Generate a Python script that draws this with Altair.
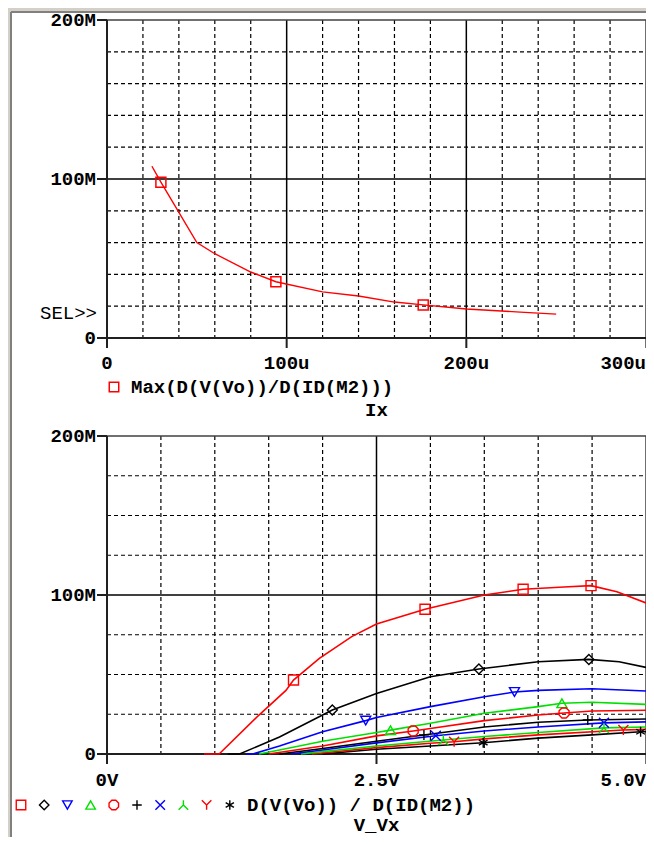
import altair as alt
import pandas as pd

FONT = "Liberation Mono"
FS = 19

# ---------------- top panel data (Ix in u, gain in M) ----------------
TOP_IX = [25, 30, 50, 60, 80, 94, 120, 140, 160, 176, 200, 230, 250]
TOP_GAIN = [108, 98, 60, 53, 41.5, 35.4, 29, 26.4, 22.6, 20.8, 18.2, 16.3, 15]
TOP_MARK_IX = [30, 94, 176]
TOP_MARK_GAIN = [98, 35.4, 20.8]

TOP_XTICKS = [0, 100, 200]
TOP_XLABELS = ["0", "100u", "200u"]
TOP_XLAST = [300]
TOP_XLAST_LABEL = ["300u"]
TOP_YTICKS = [0, 100, 200]
TOP_YLABELS = ["0", "100M", "200M"]
TOP_XGRID = [20, 40, 60, 80, 120, 140, 160, 180, 220, 240, 260, 280]
TOP_YGRID = [20, 40, 60, 80, 120, 140, 160, 180]
TOP_LEGEND = "Max(D(V(Vo))/D(ID(M2)))"
TOP_XTITLE = "Ix"
SEL_TEXT = "SEL>>"

# ---------------- bottom panel data (V_Vx in V, gain in M) ----------------
BOT_XTICKS = [0, 2.5]
BOT_XLABELS = ["0V", "2.5V"]
BOT_XLAST = [5.0]
BOT_XLAST_LABEL = ["5.0V"]
BOT_YTICKS = [0, 100, 200]
BOT_YLABELS = ["0", "100M", "200M"]
BOT_XGRID = [0.5, 1.0, 1.5, 2.0, 3.0, 3.5, 4.0, 4.5]
BOT_YGRID = [25, 50, 75, 125, 150, 175]
BOT_LEGEND = "D(V(Vo)) / D(ID(M2))"
BOT_XTITLE = "V_Vx"

S1_V = [0.90, 1.04, 1.41, 1.66, 1.73, 1.97, 2.27, 2.5, 2.95, 3.5, 3.86, 4.24, 4.49, 4.73, 5.0]
S1_G = [0, 0, 24.5, 40, 46.5, 60.2, 73.8, 81.8, 91, 100, 103.6, 105, 105.9, 102, 95]
S1_MV = [1.73, 2.95, 3.86, 4.49]
S1_MG = [46.5, 91, 103.6, 105.9]

S2_V = [1.12, 1.23, 1.6, 2.0, 2.09, 2.5, 3.0, 3.45, 4.0, 4.47, 4.75, 5.0]
S2_G = [0, 0, 10.7, 24.5, 27.7, 38, 48.6, 53.5, 58, 59.5, 58, 54.5]
S2_MV = [2.09, 3.45, 4.47]
S2_MG = [27.7, 53.5, 59.5]

S3_V = [1.29, 1.35, 1.6, 2.0, 2.4, 2.5, 3.0, 3.5, 3.78, 4.0, 4.5, 5.0]
S3_G = [0, 0, 5, 14, 21, 23, 29.8, 36, 39, 40, 41, 39.6]
S3_MV = [2.4, 3.78]
S3_MG = [21, 39]

S4_V = [1.41, 1.6, 2.0, 2.5, 2.63, 3.0, 3.5, 4.0, 4.22, 4.5, 5.0]
S4_G = [0, 2.5, 8, 13.5, 15, 19.3, 25.6, 29.8, 31.9, 32.5, 31.2]
S4_MV = [2.63, 4.22]
S4_MG = [15, 31.9]

S5_V = [1.5, 2.0, 2.5, 2.84, 3.0, 3.5, 4.0, 4.24, 4.5, 5.0]
S5_G = [0, 5, 11.4, 14.5, 16, 21, 24.5, 25.8, 27, 27.5]
S5_MV = [2.84, 4.24]
S5_MG = [14.5, 25.8]

S6_V = [1.6, 2.0, 2.5, 2.94, 3.5, 4.0, 4.46, 5.0]
S6_G = [0, 3.5, 8, 12, 17, 20, 21.4, 22]
S6_MV = [2.94, 4.46]
S6_MG = [12, 21.4]

S7_V = [1.7, 2.0, 2.5, 3.05, 3.5, 4.0, 4.61, 5.0]
S7_G = [0, 2.5, 7, 11.5, 14.5, 17, 19.6, 20.2]
S7_MV = [3.05, 4.61]
S7_MG = [11.5, 19.6]

S8_V = [1.8, 2.0, 2.5, 3.12, 3.5, 4.0, 4.61, 5.0]
S8_G = [0, 1.5, 5, 8.8, 11, 13.5, 16.4, 17]
S8_MV = [3.12, 4.61]
S8_MG = [8.8, 16.4]

S9_V = [1.9, 2.5, 3.0, 3.22, 3.5, 4.0, 4.79, 5.0]
S9_G = [0, 4, 6.8, 7.7, 9.5, 12, 15.1, 15.5]
S9_MV = [3.22, 4.79]
S9_MG = [7.7, 15.1]

S10_V = [2.0, 2.5, 3.0, 3.49, 4.0, 4.5, 4.95, 5.0]
S10_G = [0, 3, 5, 7.1, 10, 12, 14, 14]
S10_MV = [3.49, 4.95]
S10_MG = [7.1, 14]

RED, BLACK, BLUE, GREEN = "#ff0000", "#000000", "#0000ff", "#00e000"
SHAPES = [
    "square",
    "diamond",
    "triangle-down",
    "triangle-up",
    "M-0.42,-1L0.42,-1L1,-0.42L1,0.42L0.42,1L-0.42,1L-1,0.42L-1,-0.42Z",
    "M-1,0L1,0M0,-1L0,1",
    "M-1,-1L1,1M-1,1L1,-1",
    "M0,-1L0,0L-1,1M0,0L1,1",
    "M-1,-1L0,0L1,-1M0,0L0,1",
    "M0,-1L0,1M-0.87,-0.5L0.87,0.5M-0.87,0.5L0.87,-0.5",
]
COLORS = [RED, BLACK, BLUE, GREEN, RED, BLACK, BLUE, GREEN, RED, BLACK]
SERIES = [
    (S1_V, S1_G, S1_MV, S1_MG), (S2_V, S2_G, S2_MV, S2_MG),
    (S3_V, S3_G, S3_MV, S3_MG), (S4_V, S4_G, S4_MV, S4_MG),
    (S5_V, S5_G, S5_MV, S5_MG), (S6_V, S6_G, S6_MV, S6_MG),
    (S7_V, S7_G, S7_MV, S7_MG), (S8_V, S8_G, S8_MV, S8_MG),
    (S9_V, S9_G, S9_MV, S9_MG), (S10_V, S10_G, S10_MV, S10_MG),
]

# ---------------- layout (pixels relative to top plot origin) ----------------
W_TOP = 539
W_BOT = 539
H_TOP = 318
BOT_Y0 = 416
BOT_Y1 = 734
PAD_L, PAD_T, PAD_R, PAD_B = 99, 12, 0, 83


def sc_xt():
    return alt.Scale(domain=[0, 300], range=[0, W_TOP], zero=False, nice=False)


def sc_yt():
    return alt.Scale(domain=[0, 200], range=[H_TOP, 0], zero=False, nice=False)


def sc_xb():
    return alt.Scale(domain=[0, 5], range=[0, W_BOT], zero=False, nice=False)


def sc_yb():
    return alt.Scale(domain=[0, 200], range=[BOT_Y1, BOT_Y0], zero=False, nice=False)


def box(x0, x1, y0, y1, color):
    return alt.Chart(pd.DataFrame({"a": [0]})).mark_rect(color=color).encode(
        x=alt.value(x0), x2=alt.value(x1), y=alt.value(y0), y2=alt.value(y1))


def vrules(vals, xscale, y0, y1, width=1.0, dash=None, color="black"):
    kw = dict(color=color, strokeWidth=width)
    if dash:
        kw["strokeDash"] = dash
    return alt.Chart(pd.DataFrame({"v": vals})).mark_rule(**kw).encode(
        x=alt.X("v:Q", scale=xscale, axis=None),
        y=alt.value(y0), y2=alt.value(y1))


def hrules(vals, yscale, x0, x1, width=1.0, dash=None, color="black"):
    kw = dict(color=color, strokeWidth=width)
    if dash:
        kw["strokeDash"] = dash
    return alt.Chart(pd.DataFrame({"v": vals})).mark_rule(**kw).encode(
        y=alt.Y("v:Q", scale=yscale, axis=None),
        x=alt.value(x0), x2=alt.value(x1))


def xlabels(vals, texts, xscale, ypix, align="center"):
    return alt.Chart(pd.DataFrame({"v": vals, "t": texts})).mark_text(
        font=FONT, fontSize=FS, fontWeight="bold", align=align, baseline="middle",
        color="black").encode(
        x=alt.X("v:Q", scale=xscale, axis=None), y=alt.value(ypix), text="t:N")


def ylabels(vals, texts, yscale):
    return alt.Chart(pd.DataFrame({"v": vals, "t": texts})).mark_text(
        font=FONT, fontSize=FS, fontWeight="bold", align="right", baseline="middle",
        color="black").encode(
        y=alt.Y("v:Q", scale=yscale, axis=None), x=alt.value(-11), text="t:N")


def label(text, x, y, align="left", weight="bold"):
    return alt.Chart(pd.DataFrame({"t": [text]})).mark_text(
        font=FONT, fontSize=FS, fontWeight=weight, align=align, baseline="middle",
        color="black").encode(x=alt.value(x), y=alt.value(y), text="t:N")


DASH = [4, 3]
GW = 1.2
RIGHT = W_TOP
layers = []

# window background
layers.append(box(-99, RIGHT, -12, 817, "#d4d0c8"))
layers.append(box(-96, RIGHT, -8, 817, "#ffffff"))
layers.append(alt.Chart(pd.DataFrame({"a": [0]})).mark_rule(color="#808080", strokeWidth=2).encode(
    x=alt.value(-96), y=alt.value(-8), y2=alt.value(817)))
layers.append(alt.Chart(pd.DataFrame({"a": [0]})).mark_rule(color="#808080", strokeWidth=2).encode(
    y=alt.value(-8), x=alt.value(-96), x2=alt.value(RIGHT)))

# ---- top panel grid / frame ----
layers.append(vrules(TOP_XGRID, sc_xt(), 0, H_TOP, GW, DASH))
layers.append(hrules(TOP_YGRID, sc_yt(), 0, W_TOP, GW, DASH))
layers.append(vrules([100, 200], sc_xt(), 0, H_TOP, 1.5))
layers.append(hrules([100], sc_yt(), 0, W_TOP, 1.5))
layers.append(hrules([200], sc_yt(), 0, W_TOP, 1.5, color="#404040"))
layers.append(vrules([300], sc_xt(), 0, H_TOP + 10, 1.5, color="#404040"))
layers.append(vrules([0, 100, 200], sc_xt(), H_TOP, H_TOP + 10, 2, color="#202020"))
layers.append(hrules(TOP_YTICKS, sc_yt(), -10, 0, 2, color="#202020"))
layers.append(vrules([0], sc_xt(), 0, H_TOP, 2, color="#202020"))
layers.append(hrules([0], sc_yt(), 0, W_TOP, 2, color="#202020"))

# ---- top curve ----
top_df = pd.DataFrame({"ix": TOP_IX, "g": TOP_GAIN})
layers.append(alt.Chart(top_df).mark_line(color=RED, strokeWidth=1.4).encode(
    x=alt.X("ix:Q", scale=sc_xt(), axis=None),
    y=alt.Y("g:Q", scale=sc_yt(), axis=None)))
layers.append(alt.Chart(pd.DataFrame({"ix": TOP_MARK_IX, "g": TOP_MARK_GAIN})).mark_point(
    shape="square", filled=False, color=RED, size=100, strokeWidth=1.5, opacity=1).encode(
    x=alt.X("ix:Q", scale=sc_xt(), axis=None),
    y=alt.Y("g:Q", scale=sc_yt(), axis=None)))

# ---- top labels ----
layers.append(xlabels(TOP_XTICKS, TOP_XLABELS, sc_xt(), H_TOP + 25))
layers.append(xlabels(TOP_XLAST, TOP_XLAST_LABEL, sc_xt(), H_TOP + 25, align="right"))
layers.append(ylabels(TOP_YTICKS, TOP_YLABELS, sc_yt()))
layers.append(label(SEL_TEXT, -10, 293, align="right", weight="normal"))
layers.append(alt.Chart(pd.DataFrame({"a": [0]})).mark_point(
    shape="square", filled=False, color=RED, size=90, strokeWidth=1.5, opacity=1).encode(
    x=alt.value(7), y=alt.value(367)))
layers.append(label(TOP_LEGEND, 24, 367))
layers.append(label(TOP_XTITLE, W_TOP / 2, 390, align="center"))

# ---- bottom panel grid / frame ----
layers.append(vrules(BOT_XGRID, sc_xb(), BOT_Y0, BOT_Y1, GW, DASH))
layers.append(hrules(BOT_YGRID, sc_yb(), 0, W_BOT, GW, DASH))
layers.append(vrules([2.5], sc_xb(), BOT_Y0, BOT_Y1, 1.5))
layers.append(hrules([100], sc_yb(), 0, W_BOT, 1.5))
layers.append(hrules([200], sc_yb(), 0, W_BOT, 1.5, color="#404040"))
layers.append(vrules([5.0], sc_xb(), BOT_Y0, BOT_Y1 + 10, 1.5, color="#404040"))
layers.append(vrules([0, 2.5], sc_xb(), BOT_Y1, BOT_Y1 + 10, 2, color="#202020"))
layers.append(hrules(BOT_YTICKS, sc_yb(), -10, 0, 2, color="#202020"))
layers.append(vrules([0], sc_xb(), BOT_Y0, BOT_Y1, 2, color="#202020"))
layers.append(hrules([0], sc_yb(), 0, W_BOT, 2, color="#202020"))

# ---- bottom curves ----
line_rows, mark_rows = [], []
for i, (vv, gg, mv, mg) in enumerate(SERIES):
    for v, g in zip(vv, gg):
        line_rows.append({"s": i, "v": v, "g": g, "c": COLORS[i]})
    for v, g in zip(mv, mg):
        mark_rows.append({"s": i, "v": v, "g": g, "c": COLORS[i], "sh": SHAPES[i]})
line_df = pd.DataFrame(line_rows[::-1])
mark_df = pd.DataFrame(mark_rows)

layers.append(alt.Chart(line_df).mark_line(strokeWidth=1.6).encode(
    x=alt.X("v:Q", scale=sc_xb(), axis=None),
    y=alt.Y("g:Q", scale=sc_yb(), axis=None),
    color=alt.Color("c:N", scale=None),
    detail="s:N",
    order=alt.Order("v:Q")))
layers.append(alt.Chart(mark_df).mark_point(filled=False, size=100, strokeWidth=1.4, opacity=1).encode(
    x=alt.X("v:Q", scale=sc_xb(), axis=None),
    y=alt.Y("g:Q", scale=sc_yb(), axis=None),
    color=alt.Color("c:N", scale=None),
    shape=alt.Shape("sh:N", scale=None)))

# ---- bottom labels ----
layers.append(xlabels(BOT_XTICKS, BOT_XLABELS, sc_xb(), BOT_Y1 + 26))
layers.append(xlabels(BOT_XLAST, BOT_XLAST_LABEL, sc_xb(), BOT_Y1 + 26, align="right"))
layers.append(ylabels(BOT_YTICKS, BOT_YLABELS, sc_yb()))

leg_df = pd.DataFrame({
    "px": [-86 + 23.2 * i for i in range(len(SHAPES))],
    "c": COLORS, "sh": SHAPES})
layers.append(alt.Chart(leg_df).mark_point(filled=False, size=90, strokeWidth=1.4, opacity=1).encode(
    x=alt.X("px:Q", scale=None),
    y=alt.value(BOT_Y1 + 51),
    color=alt.Color("c:N", scale=None),
    shape=alt.Shape("sh:N", scale=None)))
layers.append(label(BOT_LEGEND, 140, BOT_Y1 + 51))
layers.append(label(BOT_XTITLE, W_BOT / 2, BOT_Y1 + 71, align="center"))

chart = alt.layer(*layers).resolve_scale(
    x="independent", y="independent"
).properties(
    width=W_BOT, height=BOT_Y1, background="#ffffff",
    autosize=alt.AutoSizeParams(type="none"),
    padding={"left": PAD_L, "top": PAD_T, "right": PAD_R, "bottom": PAD_B},
).configure_view(strokeWidth=0)

chart.save("out.html", embed_options={"renderer": "svg", "actions": False})
